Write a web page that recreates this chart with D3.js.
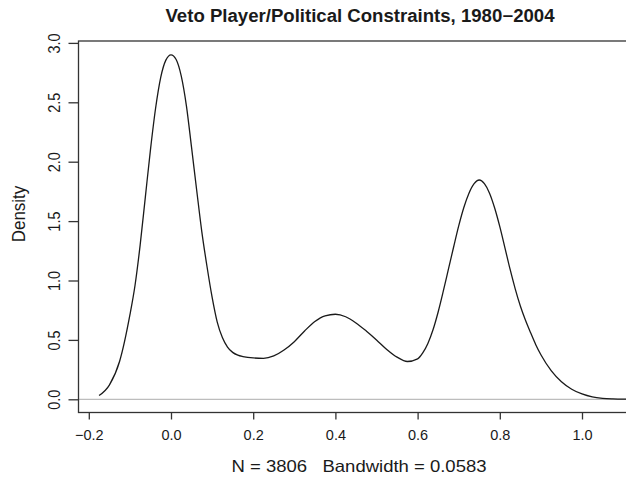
<!DOCTYPE html>
<html>
<head>
<meta charset="utf-8">
<script src="https://cdn.jsdelivr.net/npm/d3@7"></script>
<style>
  html, body { margin: 0; padding: 0; background: #fff; }
  svg { display: block; }
  text { font-family: "Liberation Sans", Arial, Helvetica, sans-serif; fill: #1a1a1a; }
</style>
</head>
<body>
<svg id="chart" width="626" height="481"></svg>
<script>
const title = "Veto Player/Political Constraints, 1980\u22122004";
const xLabel = "N = 3806   Bandwidth = 0.0583";
const yLabel = "Density";
const xTicks = [-0.2, 0.0, 0.2, 0.4, 0.6, 0.8, 1.0];
const yTicks = [0.0, 0.5, 1.0, 1.5, 2.0, 2.5, 3.0];

// density curve
const densX = [-0.175, -0.150, -0.125, -0.100, -0.0875, -0.075, -0.0625, -0.050, -0.0375, -0.025, -0.0125, 0.000,
  0.0125, 0.025, 0.0375, 0.050, 0.0625, 0.075, 0.0875, 0.100, 0.1125, 0.125, 0.1375, 0.150, 0.1625, 0.175,
  0.200, 0.225, 0.250, 0.275,
  0.300, 0.325, 0.350, 0.375, 0.400, 0.425, 0.450, 0.475, 0.500, 0.525, 0.550,
  0.575, 0.600, 0.6125, 0.625, 0.6375, 0.650, 0.6625, 0.675, 0.6875, 0.700, 0.7125, 0.725, 0.7375, 0.750,
  0.7625, 0.775, 0.7875, 0.800, 0.8125, 0.825, 0.8375, 0.850, 0.8625, 0.875, 0.8875, 0.900,
  0.925, 0.950, 0.975, 1.000, 1.025, 1.050, 1.075, 1.100, 1.175];
const densY = [0.032, 0.120, 0.320, 0.710, 0.960, 1.300, 1.700, 2.100, 2.450, 2.710, 2.855, 2.900,
  2.860, 2.720, 2.470, 2.120, 1.760, 1.410, 1.120, 0.860, 0.650, 0.520, 0.440, 0.395, 0.372, 0.360,
  0.348, 0.345, 0.365, 0.415,
  0.485, 0.575, 0.655, 0.703, 0.716, 0.695, 0.643, 0.575, 0.500, 0.420, 0.355,
  0.318, 0.340, 0.390, 0.470, 0.585, 0.735, 0.910, 1.095, 1.280, 1.460, 1.615, 1.735, 1.815, 1.846,
  1.815, 1.735, 1.610, 1.453, 1.275, 1.095, 0.930, 0.785, 0.665, 0.560, 0.460, 0.375,
  0.242, 0.148, 0.085, 0.045, 0.020, 0.008, 0.003, 0.001, 0.0];

const svg = d3.select("#chart");
const x = d3.scaleLinear().domain([-0.2, 1.0]).range([88.8, 582]);
const y = d3.scaleLinear().domain([0, 3]).range([399.3, 42.9]);
const frame = { left: 78.5, top: 41, bottom: 412.5, right: 720 };
const axisColor = "#333";

// zero reference line
svg.append("line")
  .attr("x1", frame.left).attr("x2", frame.right)
  .attr("y1", y(0)).attr("y2", y(0))
  .attr("stroke", "#bdbdbd").attr("stroke-width", 1.2);

// density curve
const pts = densX.map((v, i) => [v, densY[i]]);
svg.append("path")
  .datum(pts)
  .attr("fill", "none")
  .attr("stroke", "#1a1a1a")
  .attr("stroke-width", 1.3)
  .attr("d", d3.line().x(d => x(d[0])).y(d => y(d[1])).curve(d3.curveMonotoneX));

// frame box (extends past right edge)
svg.append("rect")
  .attr("x", frame.left).attr("y", frame.top)
  .attr("width", frame.right - frame.left).attr("height", frame.bottom - frame.top)
  .attr("fill", "none").attr("stroke", axisColor).attr("stroke-width", 1.3);

// x axis
const gx = svg.append("g").attr("transform", `translate(0,${frame.bottom})`)
  .call(d3.axisBottom(x).tickValues(xTicks).tickSize(7).tickPadding(10)
    .tickFormat(d => d3.format(".1f")(d).replace("-", "\u2212")));
gx.select(".domain").remove();
gx.selectAll(".tick line").attr("stroke", axisColor).attr("stroke-width", 1.3);
gx.selectAll(".tick text").attr("font-size", 14.5).attr("fill", "#1a1a1a")
  .style("font-family", '"Liberation Sans", Arial, sans-serif');

// y axis
const gy = svg.append("g").attr("transform", `translate(${frame.left},0)`)
  .call(d3.axisLeft(y).tickValues(yTicks).tickSize(10).tickFormat(d3.format(".1f")));
gy.select(".domain").remove();
gy.selectAll(".tick line").attr("stroke", axisColor).attr("stroke-width", 1.3);
gy.selectAll(".tick text").remove();
gy.selectAll(".tick").append("text")
  .attr("transform", "translate(-19,0) scale(1.12,1) rotate(-90)")
  .attr("text-anchor", "middle")
  .attr("font-size", 14.5)
  .attr("fill", "#1a1a1a")
  .text(d => d3.format(".1f")(d));

// title
svg.append("text")
  .attr("x", 360).attr("y", 22)
  .attr("text-anchor", "middle")
  .attr("font-size", 17.5).attr("font-weight", "bold")
  .attr("textLength", 389).attr("lengthAdjust", "spacingAndGlyphs")
  .text(title);

// x label
svg.append("text")
  .attr("x", 359).attr("y", 472)
  .attr("text-anchor", "middle")
  .attr("font-size", 16.5)
  .attr("xml:space", "preserve")
  .attr("textLength", 255).attr("lengthAdjust", "spacingAndGlyphs")
  .text(xLabel);

// y label
svg.append("text")
  .attr("transform", `translate(25,214) scale(1.12,1) rotate(-90)`)
  .attr("text-anchor", "middle")
  .attr("font-size", 17)
  .text(yLabel);
</script>
</body>
</html>
